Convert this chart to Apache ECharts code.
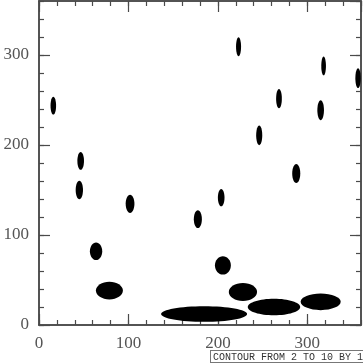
<!DOCTYPE html>
<html><head><meta charset="utf-8">
<script src="https://cdn.jsdelivr.net/npm/echarts@6/dist/echarts.min.js"></script>
<style>html,body{margin:0;padding:0;background:#fff}#c{width:363px;height:364px}</style>
</head><body><div id="c"></div>
<script>
// Contour blobs: centre and half-extent in data units
const centerX = [16, 46.6, 45.1, 101.8, 63.8, 78.7, 184.6, 228, 262.7, 314.9, 205.6, 177.6, 203.7, 223.1, 318.2, 356.7, 268.3, 314.9, 246.2, 287.6];
const centerY = [243.7, 182.3, 150, 134.6, 81.9, 38.2, 12.2, 36.7, 19.9, 25.7, 66.2, 117.6, 141.5, 309.1, 287.9, 274.2, 251.5, 238.6, 210.7, 168.3];
const spreadX = [3.1, 3.7, 4.1, 4.9, 6.9, 15.1, 48.1, 15.8, 29.3, 22.4, 8.9, 4.5, 3.7, 2.8, 2.6, 3.0, 3.2, 3.7, 3.4, 4.5];
const spreadY = [9.9, 9.8, 10.3, 10.1, 9.8, 9.8, 8.7, 9.9, 9.2, 9.2, 10.1, 9.8, 9.5, 10.5, 10.5, 11, 10.6, 11, 10.9, 10.6];
const majorTicks = [0, 100, 200, 300];
const caption = 'CONTOUR FROM 2 TO 10 BY 1';

const data = centerX.map((x, i) => [x, centerY[i], spreadX[i], spreadY[i]]);
const AX = '#4a4a4a';
const gridBox = {left: 39, right: 2, top: 1, bottom: 39};
function axis(type, pos, gridIndex, interval, len, labels) {
  return {
    type: 'value', gridIndex, position: pos, min: 0, max: 360, interval,
    axisLine: {show: true, onZero: false, lineStyle: {color: AX, width: 1.5}},
    axisTick: {show: true, inside: true, length: len, lineStyle: {color: AX, width: 1.2}},
    splitLine: {show: false},
    axisLabel: labels ? {
      show: true, showMaxLabel: false, margin: 10, color: '#555',
      fontFamily: 'Liberation Serif', fontSize: 17,
      formatter: v => majorTicks.indexOf(v) >= 0 ? String(v) : ''
    } : {show: false}
  };
}
const chart = echarts.init(document.getElementById('c'));
chart.setOption({
  animation: false,
  grid: [Object.assign({}, gridBox), Object.assign({}, gridBox)],
  xAxis: [
    axis('x', 'bottom', 0, 100, 11, true),
    axis('x', 'top', 0, 100, 11, false),
    axis('x', 'bottom', 1, 20, 5, false),
    axis('x', 'top', 1, 20, 5, false)
  ],
  yAxis: [
    axis('y', 'left', 0, 100, 11, true),
    axis('y', 'right', 0, 100, 11, false),
    axis('y', 'left', 1, 20, 5, false),
    axis('y', 'right', 1, 20, 5, false)
  ],
  series: [{
    type: 'custom', xAxisIndex: 0, yAxisIndex: 0, data,
    renderItem: function (params, api) {
      const c = api.coord([api.value(0), api.value(1)]);
      const s = api.size([api.value(2), api.value(3)]);
      return {type: 'ellipse', shape: {cx: c[0], cy: c[1], rx: s[0], ry: s[1]}, style: {fill: '#000'}};
    }
  }],
  graphic: [{
    type: 'text', left: 210, top: 350,
    style: {
      text: caption, font: '10px "Liberation Mono"', fill: '#333',
      backgroundColor: '#fff', borderColor: '#777', borderWidth: 1, padding: [1, 2, 0, 2]
    }
  }]
});
</script></body></html>
